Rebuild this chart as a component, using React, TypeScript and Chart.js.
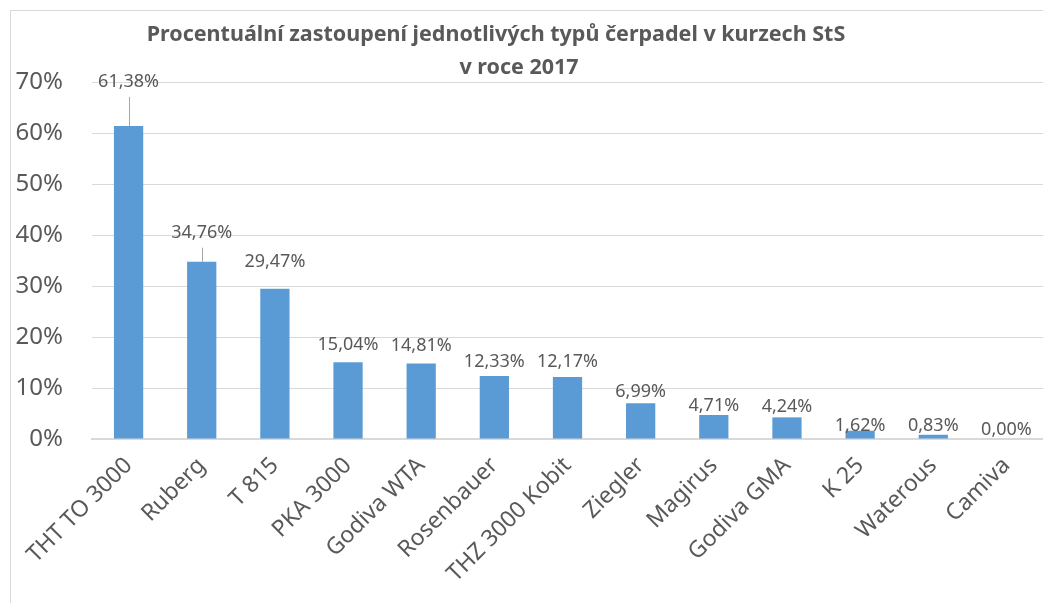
import React, { useEffect, useRef } from "react";
import { Chart, registerables } from "chart.js";

Chart.register(...registerables);

const categories = [
  "THT TO 3000",
  "Ruberg",
  "T 815",
  "PKA 3000",
  "Godiva WTA",
  "Rosenbauer",
  "THZ 3000 Kobit",
  "Ziegler",
  "Magirus",
  "Godiva GMA",
  "K 25",
  "Waterous",
  "Camiva",
];
const shares = [61.38, 34.76, 29.47, 15.04, 14.81, 12.33, 12.17, 6.99, 4.71, 4.24, 1.62, 0.83, 0.0];
const yTicks = [0, 10, 20, 30, 40, 50, 60, 70];
const titleLines = ["Procentuální zastoupení jednotlivých typů čerpadel v kurzech StS", "v roce 2017"];

const TEXT = "#595959";
const GRID = "#d9d9d9";
const FONT = "'Noto Sans', 'Open Sans', sans-serif";

const fmt = (v: number) => v.toFixed(2).replace(".", ",") + "%";

const labelPlugin = {
  id: "barLabels",
  afterDatasetsDraw(chart: any, _args: any, opts: any) {
    const ctx = chart.ctx;
    const meta = chart.getDatasetMeta(0);
    const gaps: number[] = opts.gaps;
    const leaders: number[] = opts.leaders;
    ctx.save();
    ctx.font = `18px ${FONT}`;
    ctx.fillStyle = TEXT;
    ctx.textAlign = "center";
    ctx.textBaseline = "middle";
    meta.data.forEach((bar: any, i: number) => {
      const v = shares[i];
      const gap = gaps[i] ?? 14;
      const cy = bar.y - gap;
      ctx.fillText(fmt(v), bar.x, cy);
      if (leaders.includes(i)) {
        ctx.strokeStyle = "#a6a6a6";
        ctx.lineWidth = 1;
        ctx.beginPath();
        ctx.moveTo(Math.round(bar.x) + 0.5, cy + 15);
        ctx.lineTo(Math.round(bar.x) + 0.5, bar.y);
        ctx.stroke();
      }
    });
    ctx.restore();
  },
};

const titlePlugin = {
  id: "customTitle",
  afterDraw(chart: any, _args: any, opts: any) {
    const ctx = chart.ctx;
    ctx.save();
    ctx.font = `bold 21.5px ${FONT}`;
    ctx.fillStyle = TEXT;
    ctx.textAlign = "center";
    ctx.textBaseline = "middle";
    titleLines.forEach((line, i) => {
      ctx.fillText(line, opts.centers[i], opts.ys[i]);
    });
    ctx.restore();
  },
};

export default function App() {
  const ref = useRef<HTMLCanvasElement>(null);

  useEffect(() => {
    if (!ref.current) return;
    const chart = new Chart(ref.current, {
      type: "bar",
      data: {
        labels: categories,
        datasets: [
          {
            data: shares,
            backgroundColor: "#5b9bd5",
            borderWidth: 0,
            barPercentage: 0.4,
            categoryPercentage: 1,
          },
        ],
      },
      plugins: [labelPlugin, titlePlugin],
      options: {
        responsive: false,
        animation: false,
        layout: { padding: { top: 82, left: 0, right: 0, bottom: 0 } },
        plugins: {
          legend: { display: false },
          title: { display: false },
          tooltip: { enabled: false },
          barLabels: {
            gaps: [44, 29, 27, 17, 18, 14, 15, 11, 9, 11, 5, 9, 9],
            leaders: [0, 1],
          },
          customTitle: { centers: [496, 519], ys: [35, 68] },
        } as any,
        scales: {
          x: {
            grid: { display: false, drawTicks: false },
            border: { display: true, color: GRID, width: 2 },
            ticks: {
              color: TEXT,
              font: { family: FONT, size: 23 },
              minRotation: 45,
              maxRotation: 45,
              padding: 13,
              autoSkip: false,
            },
            afterFit(scale: any) {
              scale.height = 164;
            },
          },
          y: {
            min: 0,
            max: 70,
            grid: { color: GRID, lineWidth: 1, drawTicks: false },
            border: { display: false },
            afterBuildTicks(scale: any) {
              scale.ticks = yTicks.map((v) => ({ value: v }));
            },
            ticks: {
              color: TEXT,
              font: { family: FONT, size: 24 },
              padding: 29,
              callback: (v: any) => `${v}%`,
            },
            afterFit(scale: any) {
              scale.width = 92;
            },
          },
        },
      },
    });
    return () => chart.destroy();
  }, []);

  return (
    <div style={{ position: "fixed", left: 0, top: 0, width: 1043, height: 603, overflow: "hidden", background: "#fff" }}>
      <div
        style={{
          position: "absolute",
          left: 10,
          top: 10,
          width: 1100,
          height: 700,
          border: `1px solid ${GRID}`,
        }}
      />
      <canvas ref={ref} width={1043} height={603} style={{ position: "absolute", left: 0, top: 0 }} />
    </div>
  );
}
